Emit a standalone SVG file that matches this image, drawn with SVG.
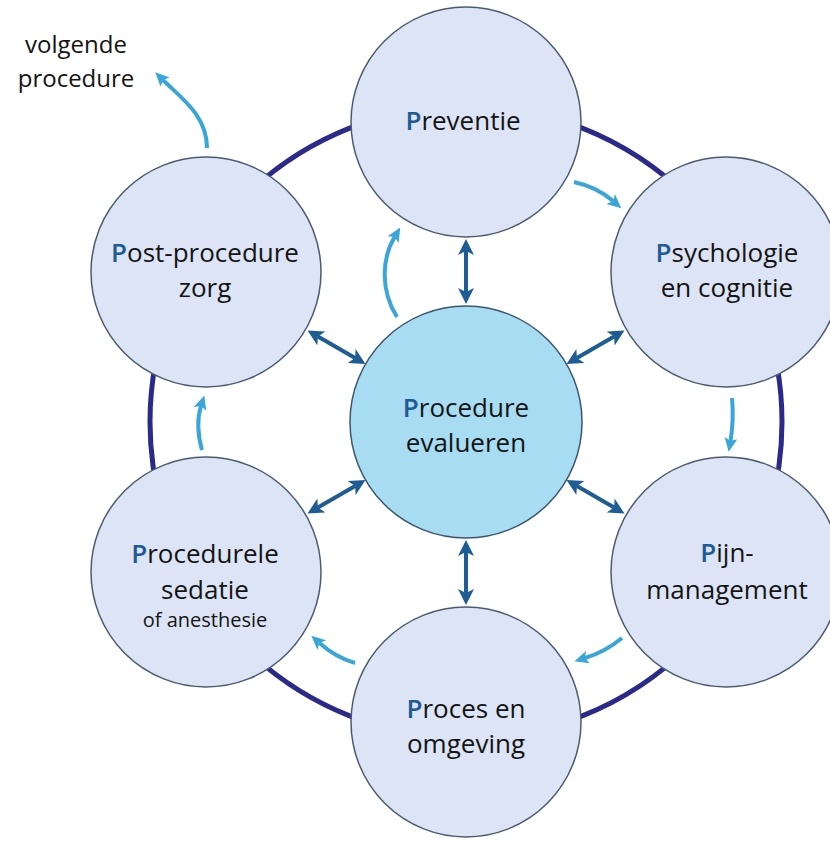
<svg xmlns="http://www.w3.org/2000/svg" width="830" height="841" viewBox="0 0 830 841">
<style>
  .node { fill: #dce4f5; stroke: #4b5b70; stroke-width: 1.5; }
  .center { fill: #a7dcf2; stroke: #3d5570; stroke-width: 1.5; }
  .lbl { font-family: "Open Sans", "Liberation Sans", sans-serif; font-size: 26px; fill: #141414; text-anchor: middle; }
  .small { font-size: 20px; }
  .P { fill: #1f5a96; font-weight: 600; }
  .ring { fill: none; stroke: #2b2a8a; stroke-width: 5; }
  .dbl { fill: none; stroke: #1d5d94; stroke-width: 4; marker-start: url(#dh); marker-end: url(#dh); }
  .flow { fill: none; stroke: #3aa6d8; stroke-width: 4; marker-end: url(#lh); }
</style>
<defs>
  <marker id="dh" markerUnits="userSpaceOnUse" markerWidth="17" markerHeight="17" refX="4" refY="8" orient="auto-start-reverse">
    <path d="M0,0 L16,8 L0,16 L4,8 z" fill="#1d5d94"/>
  </marker>
  <marker id="lh" markerUnits="userSpaceOnUse" markerWidth="15" markerHeight="14" refX="3" refY="6.5" orient="auto">
    <path d="M0,0 L14,6.5 L0,13 L3,6.5 z" fill="#3aa6d8"/>
  </marker>
</defs>
<rect width="830" height="841" fill="#ffffff"/>
<circle class="ring" cx="466" cy="422" r="316"/>
<g id="connectors">
  <path class="dbl" d="M466,292 L466,251"/>
  <path class="dbl" d="M576.9,358 L614.1,336.5"/>
  <path class="dbl" d="M576.9,486 L614.1,507.5"/>
  <path class="dbl" d="M466,552 L466,593"/>
  <path class="dbl" d="M355.1,486 L317.9,507.5"/>
  <path class="dbl" d="M355.1,358 L317.9,336.5"/>
  <path class="flow" d="M574,182 Q597,187 613,201"/>
  <path class="flow" d="M732,398 Q734,420 730.5,441"/>
  <path class="flow" d="M622,638 Q605,652 585,658"/>
  <path class="flow" d="M355,663 Q335,657 319.5,643"/>
  <path class="flow" d="M202,450 Q195,425 201,406"/>
  <path class="flow" d="M207,148 C207,115 180,97 163,80"/>
  <path class="flow" d="M397,317 C380,290 382,258 394.6,237"/>
</g>
<g id="preventie">
  <circle class="node" cx="466" cy="122" r="115"/>
  <text class="lbl" x="463" y="130"><tspan class="P">P</tspan>reventie</text>
</g>
<g id="psychologie">
  <circle class="node" cx="726" cy="272" r="115"/>
  <text class="lbl" x="727" y="262"><tspan class="P">P</tspan>sychologie</text>
  <text class="lbl" x="727" y="297">en cognitie</text>
</g>
<g id="pijn">
  <circle class="node" cx="726" cy="572" r="115"/>
  <text class="lbl" x="727" y="562"><tspan class="P">P</tspan>ijn-</text>
  <text class="lbl" x="727" y="599">management</text>
</g>
<g id="proces">
  <circle class="node" cx="466" cy="722" r="115"/>
  <text class="lbl" x="466" y="718"><tspan class="P">P</tspan>roces en</text>
  <text class="lbl" x="466" y="753">omgeving</text>
</g>
<g id="procedurele">
  <circle class="node" cx="206" cy="572" r="115"/>
  <text class="lbl" x="205" y="563"><tspan class="P">P</tspan>rocedurele</text>
  <text class="lbl" x="205" y="599">sedatie</text>
  <text class="lbl small" x="205" y="627">of anesthesie</text>
</g>
<g id="post-procedure">
  <circle class="node" cx="206" cy="272" r="115"/>
  <text class="lbl" x="205" y="262"><tspan class="P">P</tspan>ost-procedure</text>
  <text class="lbl" x="205" y="297">zorg</text>
</g>
<g id="procedure-evalueren">
  <circle class="center" cx="466" cy="422" r="116"/>
  <text class="lbl" x="466" y="417"><tspan class="P">P</tspan>rocedure</text>
  <text class="lbl" x="466" y="452">evalueren</text>
</g>
<g id="volgende-procedure">
  <text class="lbl" style="font-size:24px" x="76" y="53">volgende</text>
  <text class="lbl" style="font-size:24px" x="76" y="87">procedure</text>
</g>
</svg>
